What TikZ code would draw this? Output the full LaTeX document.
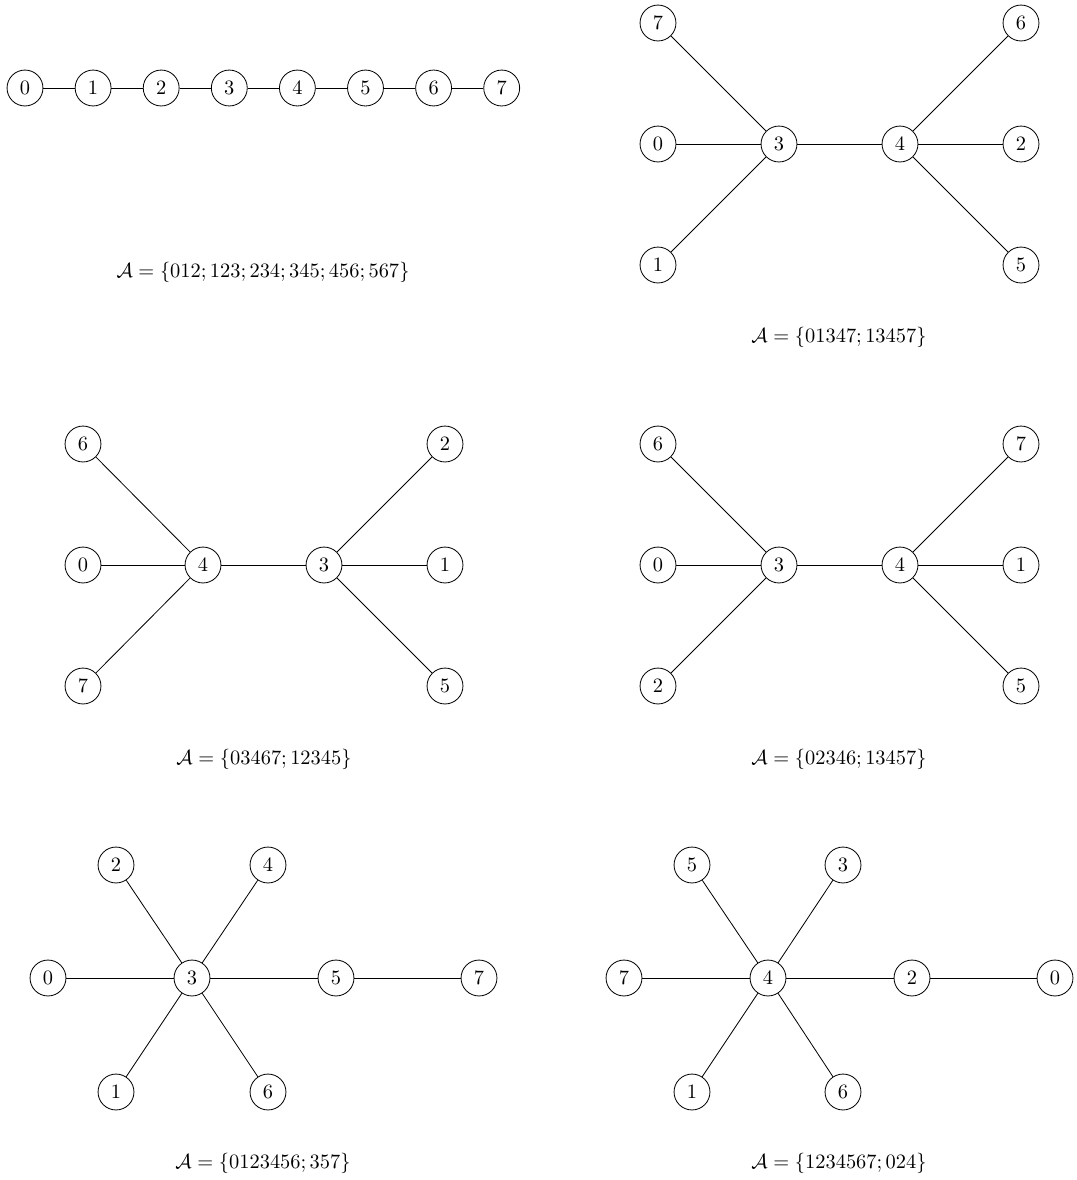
\documentclass[tikz,border=0pt]{standalone}
\usepackage{amsmath,amssymb}
\usetikzlibrary{positioning}
\tikzset{
  line cap=round,
  line join=round,
  vertex/.style={draw, circle, minimum size=17.6pt, inner sep=0pt},
  edge/.style={draw, line width=0.4pt},
  caption/.style={inner sep=0pt}
}

\begin{document}
\begin{tikzpicture}[x=0.49pt, y=-0.49pt]
  \useasboundingbox (0,0) rectangle (1077,1180);

  % chain
  \foreach \i in {0,...,7}
    \node[vertex] (a\i) at (25+68.1*\i,88) {$\i$};
  \foreach \i [count=\j] in {0,...,6}
    \draw[edge] (a\i) -- (a\j);
  \node[caption] (capa) at (263,272) {$\mathcal{A}=\{012;123;234;345;456;567\}$};

  % two centres 3 and 4
  \foreach \n/\x/\y in {3/779/144, 4/900/144, 7/658/23, 0/658/144, 1/658/265,
                        6/1021/23, 2/1021/144, 5/1021/265}
    \node[vertex] (b\n) at (\x,\y) {$\n$};
  \foreach \u/\v in {3/4, 3/7, 3/0, 3/1, 4/6, 4/2, 4/5}
    \draw[edge] (b\u) -- (b\v);
  \node[caption] (capb) at (839,337) {$\mathcal{A}=\{01347;13457\}$};

  \foreach \n/\x/\y in {4/203/565, 3/324/565, 6/83/444, 0/83/565, 7/83/686,
                        2/445/444, 1/445/565, 5/445/686}
    \node[vertex] (c\n) at (\x,\y) {$\n$};
  \foreach \u/\v in {4/3, 4/6, 4/0, 4/7, 3/2, 3/1, 3/5}
    \draw[edge] (c\u) -- (c\v);
  \node[caption] (capc) at (264,759) {$\mathcal{A}=\{03467;12345\}$};

  \foreach \n/\x/\y in {3/779/565, 4/900/565, 6/658/444, 0/658/565, 2/658/686,
                        7/1021/444, 1/1021/565, 5/1021/686}
    \node[vertex] (d\n) at (\x,\y) {$\n$};
  \foreach \u/\v in {3/4, 3/6, 3/0, 3/2, 4/7, 4/1, 4/5}
    \draw[edge] (d\u) -- (d\v);
  \node[caption] (capd) at (839,759) {$\mathcal{A}=\{02346;13457\}$};

  % one centre of degree six
  \foreach \n/\x/\y in {3/192/978, 0/48/978, 5/336/978, 7/479/978,
                        2/116/865, 4/268/865, 1/116/1092, 6/268/1092}
    \node[vertex] (e\n) at (\x,\y) {$\n$};
  \foreach \u/\v in {3/0, 3/5, 5/7, 3/2, 3/4, 3/1, 3/6}
    \draw[edge] (e\u) -- (e\v);
  \node[caption] (cape) at (263,1163) {$\mathcal{A}=\{0123456;357\}$};

  \foreach \n/\x/\y in {4/768/978, 7/624/978, 2/912/978, 0/1055/978,
                        5/692/865, 3/843/865, 1/692/1092, 6/843/1092}
    \node[vertex] (f\n) at (\x,\y) {$\n$};
  \foreach \u/\v in {4/7, 4/2, 2/0, 4/5, 4/3, 4/1, 4/6}
    \draw[edge] (f\u) -- (f\v);
  \node[caption] (capf) at (839,1163) {$\mathcal{A}=\{1234567;024\}$};
\end{tikzpicture}
\end{document}
